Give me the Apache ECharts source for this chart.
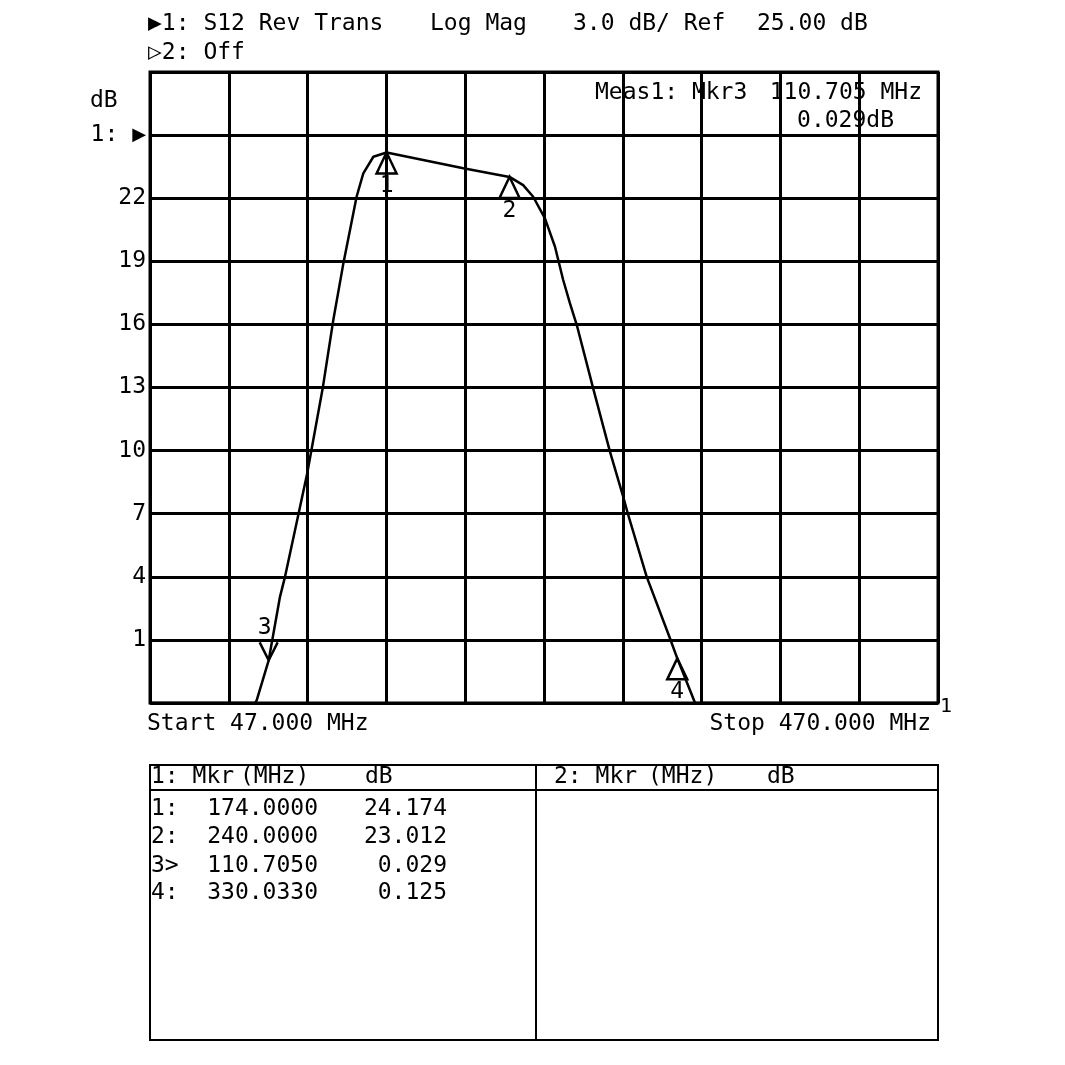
<!DOCTYPE html>
<html>
<head>
<meta charset="utf-8">
<script src="https://cdn.jsdelivr.net/npm/echarts@6/dist/echarts.min.js"></script>
<style>html,body{margin:0;padding:0;background:#fff}#c{width:1065px;height:1065px}</style>
</head>
<body>
<div id="c"></div>
<script>
// ---- data ----
const traceFreq = [47, 103.4, 104.3, 110.705, 116.8, 119.5, 126.6, 131.4, 139.7, 145.4, 150.8, 157.9, 161.5, 166.9, 174.0, 215.2, 240.0, 247.3, 252.7, 259.0, 264.4, 268.8, 272.4, 276.1, 284.9, 293.9, 301.0, 303.7, 313.6, 326.1, 330.033, 339.6, 470];
const traceDb   = [-2, -2, -1.86, 0.029, 3.06, 4.01, 6.94, 8.92, 12.96, 16.21, 18.90, 22.07, 23.18, 23.97, 24.174, 23.42, 23.012, 22.62, 22.07, 21.04, 19.69, 18.11, 17.01, 15.97, 12.96, 9.95, 7.81, 6.94, 4.01, 1.08, 0.125, -2, -2];
const markerNames = ['1', '2', '3', '4'];
const markerTags  = ['1:', '2:', '3>', '4:'];
const markerFreq  = [174.0, 240.0, 110.705, 330.033];
const markerDb    = [24.174, 23.012, 0.029, 0.125];
const activeMarker = 2; // index of marker 3
const startMHz = 47.0, stopMHz = 470.0;
const refDb = 25.0, scaleDb = 3.0;
const yTickLabels = [1, 4, 7, 10, 13, 16, 19, 22];

const FONT = "'DejaVu Sans Mono', monospace";
const FS = 23;
const chart = echarts.init(document.getElementById('c'), null, {renderer: 'canvas'});

function txt(text, x, y, align, size) {
  return {type: 'text', x: x, y: y, silent: true,
    style: {text: text, fill: '#000', font: (size || FS) + 'px ' + FONT,
      align: align || 'left', verticalAlign: 'middle'}};
}
function line(x1, y1, x2, y2, w) {
  return {type: 'line', silent: true, shape: {x1: x1, y1: y1, x2: x2, y2: y2},
    style: {stroke: '#000', lineWidth: w || 2}};
}

const graphics = [
  txt('\u25B61: S12 Rev Trans', 148, 24),
  txt('Log Mag', 430, 24),
  txt(scaleDb.toFixed(1) + ' dB/ Ref', 573, 24),
  txt(refDb.toFixed(2) + ' dB', 757, 24),
  txt('\u25B72: Off', 148, 53),
  txt('dB', 90, 101),
  txt('Meas1: Mkr' + markerNames[activeMarker], 595, 93),
  txt(markerFreq[activeMarker].toFixed(3) + ' MHz', 922, 93, 'right'),
  txt(markerDb[activeMarker].toFixed(3) + 'dB', 894, 121, 'right'),
  txt('Start ' + startMHz.toFixed(3) + ' MHz', 147, 724),
  txt('Stop ' + stopMHz.toFixed(3) + ' MHz', 931, 724, 'right'),
  txt('1', 940, 707, 'left', 20),
  // table
  {type: 'rect', silent: true, shape: {x: 150, y: 765, width: 788, height: 275},
    style: {fill: 'none', stroke: '#000', lineWidth: 2}},
  line(150, 790, 938, 790, 2),
  line(536, 765, 536, 1040, 2),
  txt('1: Mkr', 151, 777),
  txt('(MHz)', 240, 777),
  txt('dB', 365, 777),
  txt('2: Mkr', 554, 777),
  txt('(MHz)', 648, 777),
  txt('dB', 767, 777)
];
const rowY = [809, 837, 866, 893];
for (let i = 0; i < markerTags.length; i++) {
  graphics.push(txt(markerTags[i], 151, rowY[i]));
  graphics.push(txt(markerFreq[i].toFixed(4), 318, rowY[i], 'right'));
  graphics.push(txt(markerDb[i].toFixed(3), 447, rowY[i], 'right'));
}

const upTri = 'path://M10,0 L20,20 L0,20 Z';
const vMark = 'path://M0,0 L10,20 L20,0';

const markerData = markerFreq.map((f, i) => {
  const active = i === activeMarker;
  return {
    value: [f, markerDb[i]],
    name: markerNames[i],
    symbol: active ? vMark : upTri,
    symbolSize: active ? [18, 18] : [20, 21],
    symbolOffset: active ? [0, -9] : [0, 10.5],
    label: {show: true, formatter: markerNames[i],
      position: active ? 'top' : 'bottom', distance: active ? 2 : 0,
      offset: active ? [-4, 0] : [0, 0],
      color: '#000', fontSize: FS, fontFamily: FONT}
  };
});

chart.setOption({
  animation: false,
  backgroundColor: '#fff',
  grid: {left: 150, top: 72, right: 127, bottom: 362, show: true,
    borderColor: '#000', borderWidth: 3, backgroundColor: 'transparent'},
  xAxis: {type: 'value', min: startMHz, max: stopMHz, interval: (stopMHz - startMHz) / 10,
    axisLine: {show: false}, axisTick: {show: false}, axisLabel: {show: false},
    splitLine: {show: true, lineStyle: {color: '#000', width: 3}}},
  yAxis: {type: 'value', min: refDb - 9 * scaleDb, max: refDb + scaleDb, interval: scaleDb,
    axisLine: {show: false}, axisTick: {show: false},
    splitLine: {show: true, lineStyle: {color: '#000', width: 3}},
    axisLabel: {show: true, margin: 4, color: '#000', fontSize: FS, fontFamily: FONT,
      formatter: function (v) {
        const r = Math.round(v * 1000) / 1000;
        if (Math.abs(r - refDb) < 1e-6) return '1: {a|\u25B6}';
        return yTickLabels.indexOf(r) >= 0 ? String(r) : '';
      },
      rich: {a: {fontSize: 18, fontFamily: 'DejaVu Sans', color: '#000'}}}},
  graphic: graphics,
  series: [
    {type: 'line', data: traceFreq.map((f, i) => [f, traceDb[i]]), showSymbol: false,
      symbol: 'none', clip: true, smooth: false,
      lineStyle: {color: '#000', width: 2.5}, z: 3},
    {type: 'scatter', data: markerData,
      itemStyle: {color: 'rgba(0,0,0,0)', borderColor: '#000', borderWidth: 2.5, opacity: 1}, z: 4}
  ]
});
</script>
</body>
</html>
